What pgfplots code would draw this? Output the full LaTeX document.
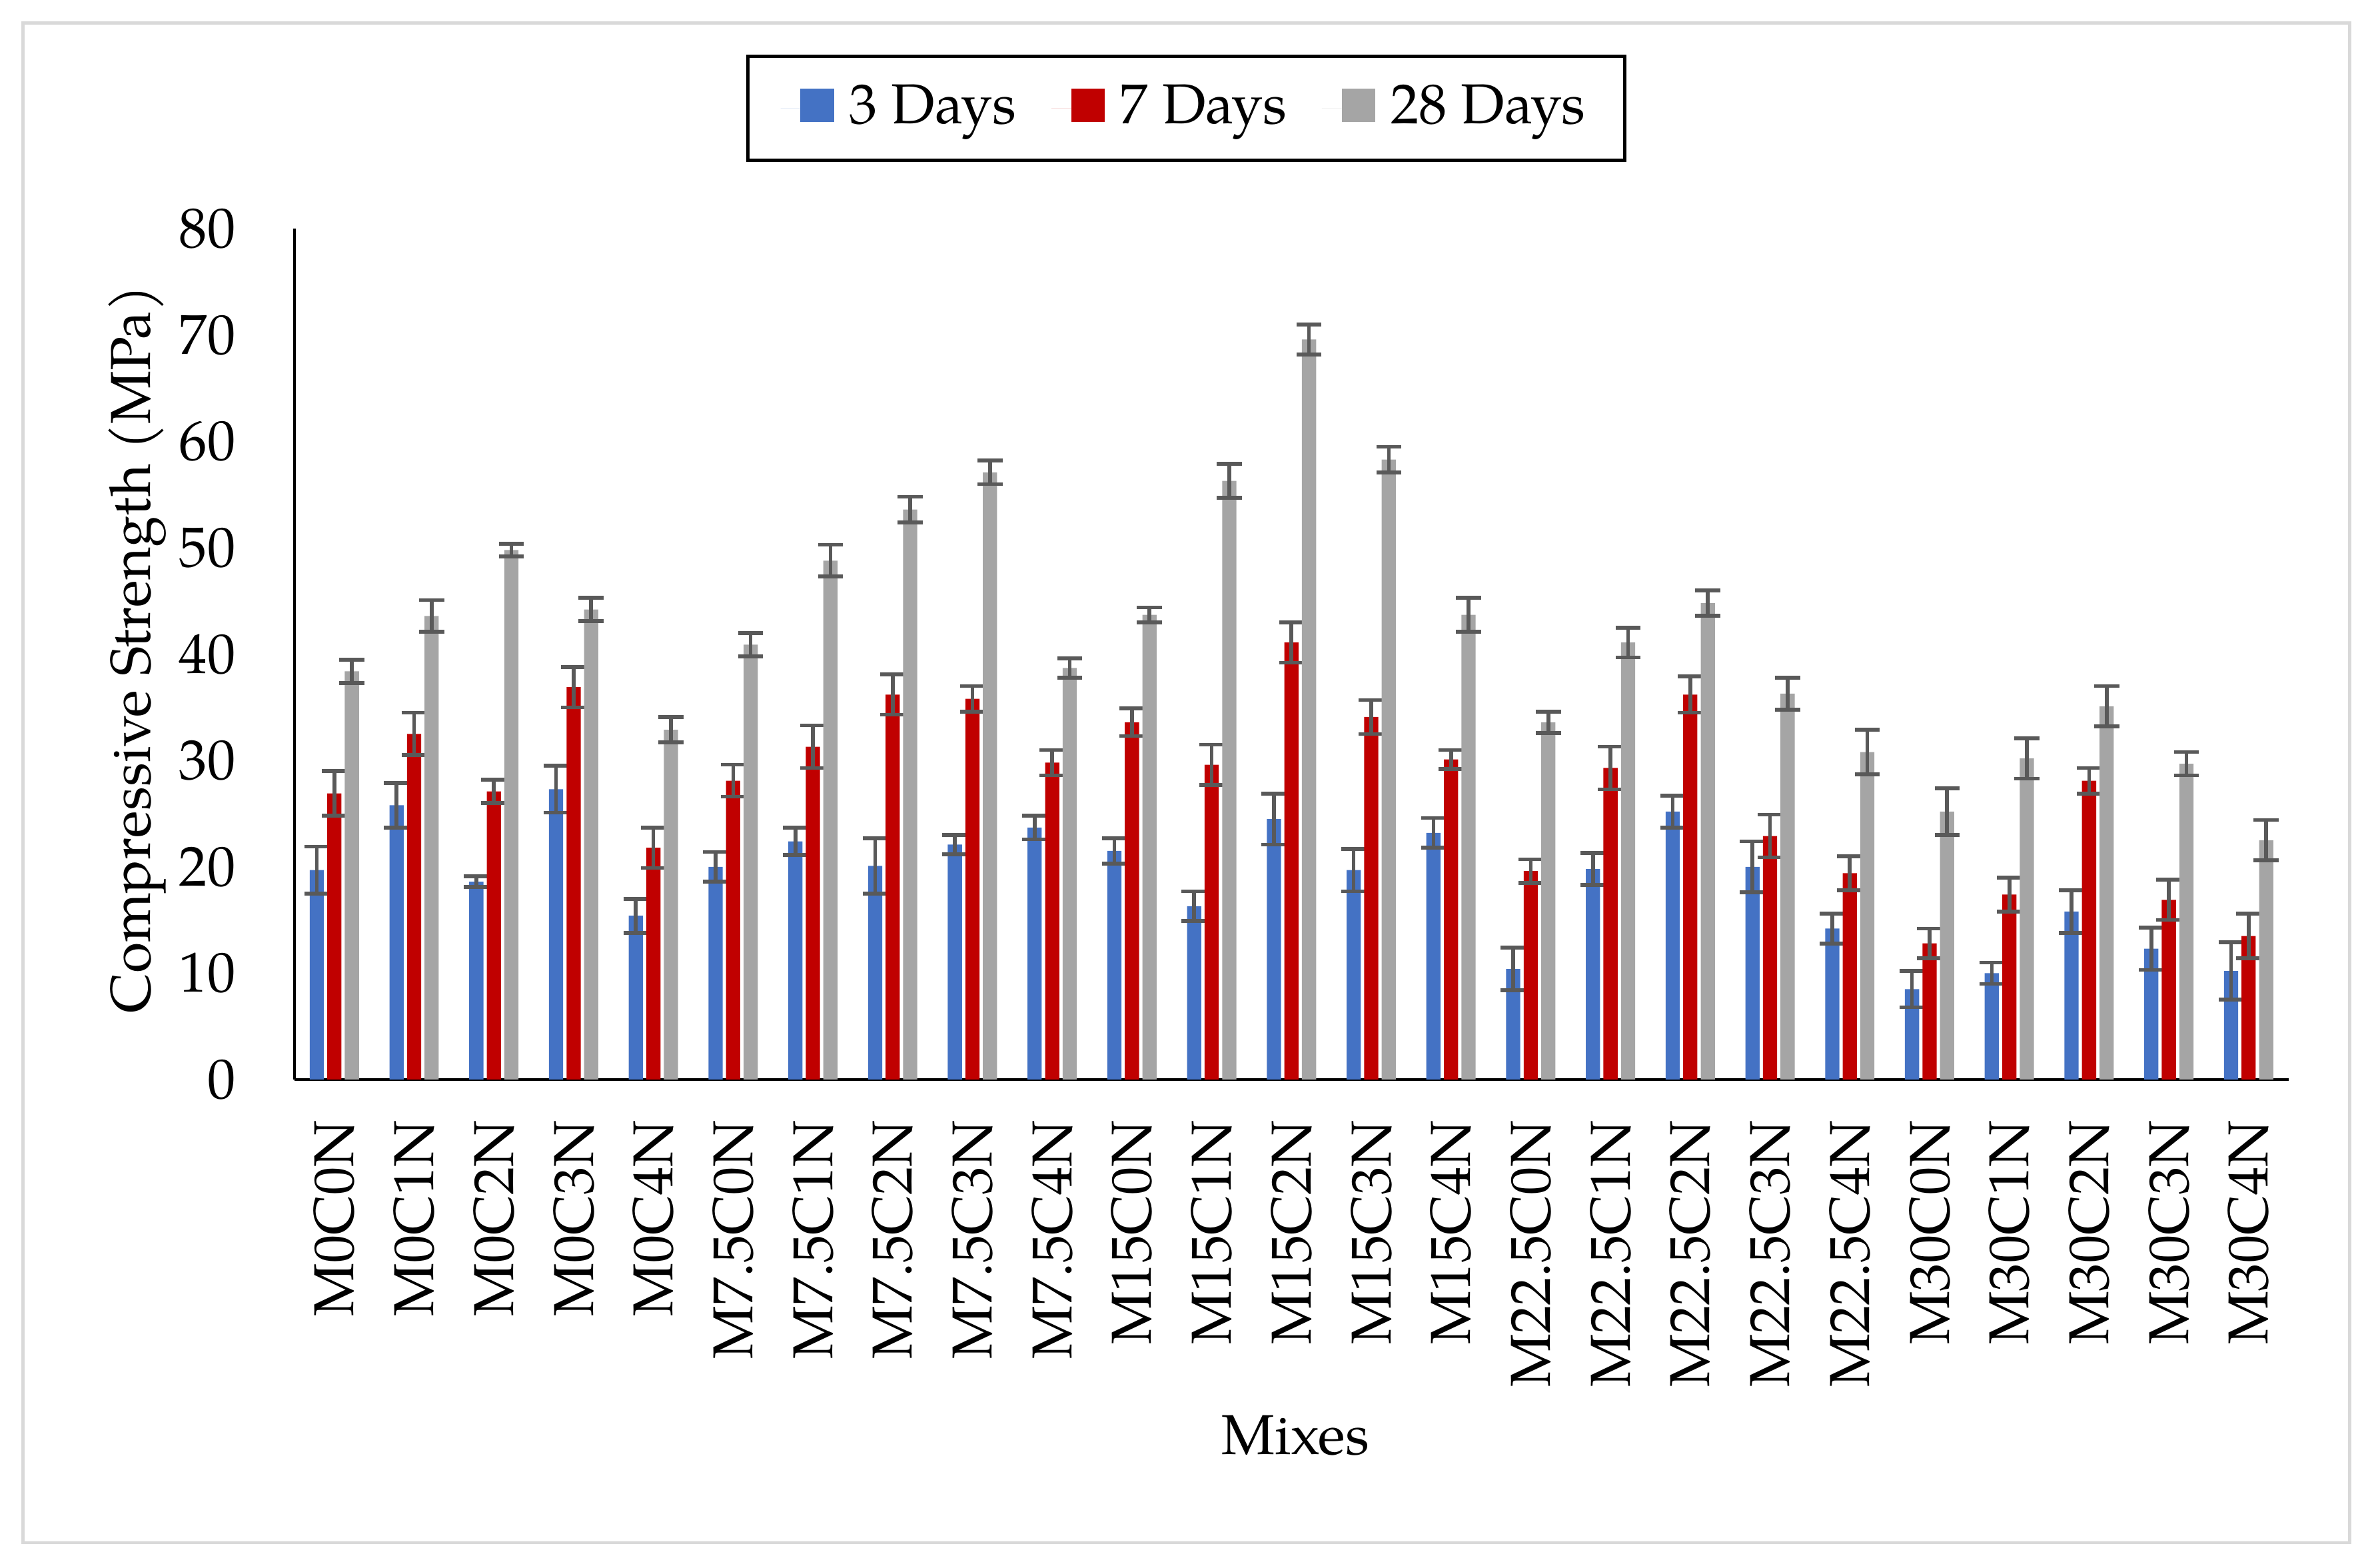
\documentclass[border=0pt]{standalone}
\usepackage{fontspec}
\setmainfont{TeX Gyre Pagella}
\usepackage{pgfplots}
\usepackage{pgfplotstable}
\pgfplotsset{compat=1.18}
\definecolor{c3}{HTML}{4472C4}
\definecolor{c7}{HTML}{C00000}
\definecolor{c28}{HTML}{A5A5A5}
\definecolor{errc}{HTML}{595959}
\definecolor{bord}{HTML}{D9D9D9}
\pgfplotstableread{
idx label d3 e3 d7 e7 d28 e28
0 M0C0N 19.7 2.2 26.9 2.1 38.4 1.1
1 M0C1N 25.8 2.1 32.5 2.0 43.6 1.5
2 M0C2N 18.6 0.5 27.1 1.1 49.8 0.6
3 M0C3N 27.3 2.2 36.9 1.9 44.2 1.1
4 M0C4N 15.4 1.6 21.8 1.9 32.9 1.2
5 M7.5C0N 20.0 1.4 28.1 1.5 40.9 1.1
6 M7.5C1N 22.4 1.3 31.3 2.0 48.8 1.5
7 M7.5C2N 20.1 2.6 36.2 1.9 53.6 1.2
8 M7.5C3N 22.1 0.9 35.8 1.2 57.1 1.1
9 M7.5C4N 23.7 1.1 29.8 1.2 38.7 0.9
10 M15C0N 21.5 1.2 33.6 1.3 43.7 0.7
11 M15C1N 16.3 1.4 29.6 1.9 56.3 1.6
12 M15C2N 24.5 2.4 41.1 1.9 69.6 1.4
13 M15C3N 19.7 2.0 34.1 1.6 58.3 1.2
14 M15C4N 23.2 1.4 30.1 0.9 43.7 1.6
15 M22.5C0N 10.4 2.0 19.6 1.1 33.6 1.0
16 M22.5C1N 19.8 1.5 29.3 2.0 41.1 1.4
17 M22.5C2N 25.2 1.5 36.2 1.7 44.8 1.2
18 M22.5C3N 20.0 2.4 22.9 2.0 36.3 1.5
19 M22.5C4N 14.2 1.4 19.4 1.6 30.8 2.1
20 M30C0N 8.5 1.7 12.8 1.4 25.2 2.2
21 M30C1N 10.0 1.0 17.4 1.6 30.2 1.9
22 M30C2N 15.8 2.0 28.1 1.2 35.1 1.9
23 M30C3N 12.3 2.0 16.9 1.9 29.7 1.1
24 M30C4N 10.2 2.7 13.5 2.1 22.5 1.9
}\data
\pgfplotsset{
  sqleg/.style={legend image code/.code={\path (-1.3mm,0mm) -- (0mm,0mm);\fill[##1,draw=none] (0mm,-0.9mm) rectangle (2.2mm,1.3mm);}},
}
\begin{document}
\begin{tikzpicture}[font=\fontsize{10.5}{12.6}\selectfont]
\useasboundingbox (-19.3mm,-31.97mm) rectangle (136.7mm,70.75mm);
\draw[bord, line width=0.6pt] (-17.8mm,-30.35mm) rectangle (134.7mm,69.25mm);
\begin{axis}[
  at={(0,0)}, anchor=south west,
  scale only axis, width=130.7mm, height=55.75mm,
  xmin=-0.5, xmax=24.5, ymin=0, ymax=80,
  axis x line*=bottom, axis y line*=left,
  axis line style={line width=0.6pt, black},
  major tick length=0pt,
  ytick={0,10,...,80},
  yticklabel style={anchor=east, inner sep=0pt},
  yticklabel shift=3.8mm,
  xtick=data, xticklabels from table={\data}{label},
  xticklabel style={rotate=90, anchor=east, inner sep=0pt},
  xticklabel shift=2.6mm,
  /pgf/number format/assume math mode=true,
  ybar=0.22mm, bar width=0.93mm,
  xlabel={Mixes}, ylabel={Compressive Strength (MPa)},
  every axis x label/.style={at={(axis description cs:0.502,-0.4188)}, anchor=center},
  every axis y label/.style={at={(axis description cs:-0.0788,0.5058)}, anchor=center, rotate=90},
  legend columns=3,
  legend cell align=left,
  legend style={at={(axis description cs:0.4472,1.2045)}, anchor=north, draw=black, line width=0.6pt,
    inner xsep=2.15mm, inner ysep=1.45mm,
    /tikz/every even column/.append style={column sep=1.9mm},
    /tikz/every odd column/.append style={column sep=0.6mm},
    nodes={inner sep=0.4mm}},
  error bars/error bar style={line width=0.7pt, errc},
  error bars/error mark options={rotate=90, line width=0.7pt, mark size=0.82mm, errc},
]
\addplot[fill=c3, draw=none, sqleg, error bars/.cd, y dir=both, y explicit] table[x=idx, y=d3, y error=e3] {\data};
\addplot[fill=c7, draw=none, sqleg, error bars/.cd, y dir=both, y explicit] table[x=idx, y=d7, y error=e7] {\data};
\addplot[fill=c28, draw=none, sqleg, error bars/.cd, y dir=both, y explicit] table[x=idx, y=d28, y error=e28] {\data};
\legend{3 Days, 7 Days, 28 Days}
\end{axis}
\end{tikzpicture}
\end{document}
